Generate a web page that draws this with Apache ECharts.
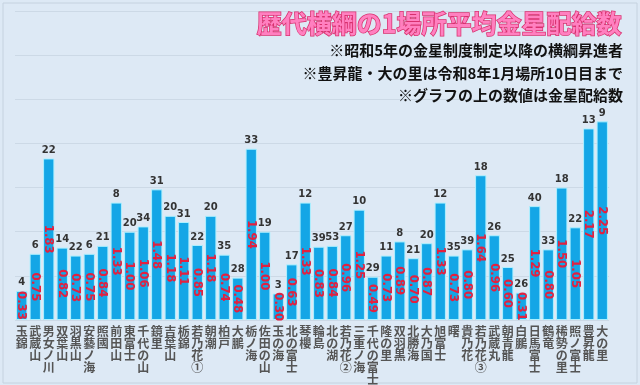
<!DOCTYPE html>
<html><head><meta charset="utf-8">
<script src="https://cdn.jsdelivr.net/npm/echarts@6/dist/echarts.min.js"></script>
<style>html,body{margin:0;padding:0;background:#dde9f5}#c{width:640px;height:385px}</style>
</head><body><div id="c"></div>
<script>
const names = ['玉錦','武蔵山','男女ノ川','双葉山','羽黒山','安藝ノ海','照國','前田山','東富士','千代の山','鏡里','吉葉山','栃錦','若乃花①','朝潮','柏戸','大鵬','栃ノ海','佐田の山','玉の海','北の富士','琴櫻','輪島','北の湖','若乃花②','三重ノ海','千代の富士','隆の里','双羽黒','北勝海','大乃国','旭富士','曙','貴乃花','若乃花③','武蔵丸','朝青龍','白鵬','日馬富士','鶴竜','稀勢の里','照ノ富士','豊昇龍','大の里'];
const averages = [0.33,0.75,1.83,0.82,0.73,0.75,0.84,1.33,1.00,1.06,1.48,1.18,1.11,0.85,1.18,0.74,0.48,1.94,1.00,0.30,0.63,1.33,0.83,0.84,0.96,1.25,0.49,0.73,0.89,0.70,0.87,1.33,0.73,0.80,1.64,0.96,0.60,0.31,1.29,0.80,1.50,1.05,2.17,2.25];
const kinboshi = [4,6,22,14,22,6,21,8,20,34,31,20,31,22,20,35,28,33,19,3,17,12,39,53,27,10,29,11,8,21,20,12,35,39,18,26,25,26,40,33,18,22,13,9];
const yTicks = {min:0, max:3.5, interval:0.5};

const chart = echarts.init(document.getElementById('c'));
chart.setOption({
  backgroundColor:'#dde9f5',
  animation:false,
  title:[
    {text:'歴代横綱の1場所平均金星配給数', right:12, top:6,
     textStyle:{fontFamily:'Noto Sans CJK JP', fontSize:25, fontWeight:'bold', color:'#ff80c0', textBorderColor:'#d8306e', textBorderWidth:1.5}},
    {text:'※昭和5年の金星制度制定以降の横綱昇進者', right:12, top:38,
     textStyle:{fontFamily:'Noto Sans CJK JP', fontSize:15, fontWeight:'bold', color:'#111'}},
    {text:'※豊昇龍・大の里は令和8年1月場所10日目まで', right:12, top:61,
     textStyle:{fontFamily:'Noto Sans CJK JP', fontSize:15, fontWeight:'bold', color:'#111'}},
    {text:'※グラフの上の数値は金星配給数', right:12, top:83,
     textStyle:{fontFamily:'Noto Sans CJK JP', fontSize:15, fontWeight:'bold', color:'#111'}}
  ],
  graphic:[{type:'rect', shape:{x:3,y:3,width:634,height:380}, style:{fill:'none', stroke:'#c5d2df', lineWidth:1}, z:-1}],
  grid:{left:15, right:31, top:11, bottom:65},
  xAxis:{type:'category', data:names,
    axisLine:{show:false}, axisTick:{show:false},
    axisLabel:{interval:0, margin:5, fontFamily:'Noto Sans CJK JP', fontSize:12, fontWeight:'bold', color:'#555', lineHeight:12,
      formatter:v=>Array.from(v).join('\n'), verticalAlign:'top'}},
  yAxis:{type:'value', min:yTicks.min, max:yTicks.max, interval:yTicks.interval,
    axisLabel:{show:false}, axisLine:{show:false}, axisTick:{show:false},
    splitLine:{lineStyle:{color:'#ccd9e6', width:1}}},
  series:[
    {type:'bar', data:averages, barCategoryGap:'16%',
     itemStyle:{color:'#14a6e6', borderColor:'#aef0ff', borderWidth:1},
     label:{show:true, position:'inside', rotate:-90, formatter:p=>p.value.toFixed(2),
       fontFamily:'Liberation Sans Narrow, DejaVu Sans Condensed, sans-serif', fontSize:13, fontWeight:'bold', color:'#e3203f'}},
    {type:'bar', data:averages, barGap:'-100%', silent:true,
     itemStyle:{color:'rgba(0,0,0,0)'},
     label:{show:true, position:'top', distance:3, formatter:p=>String(kinboshi[p.dataIndex]),
       fontFamily:'DejaVu Sans', fontSize:10, fontWeight:'bold', color:'#333'}}
  ]
});
</script></body></html>
